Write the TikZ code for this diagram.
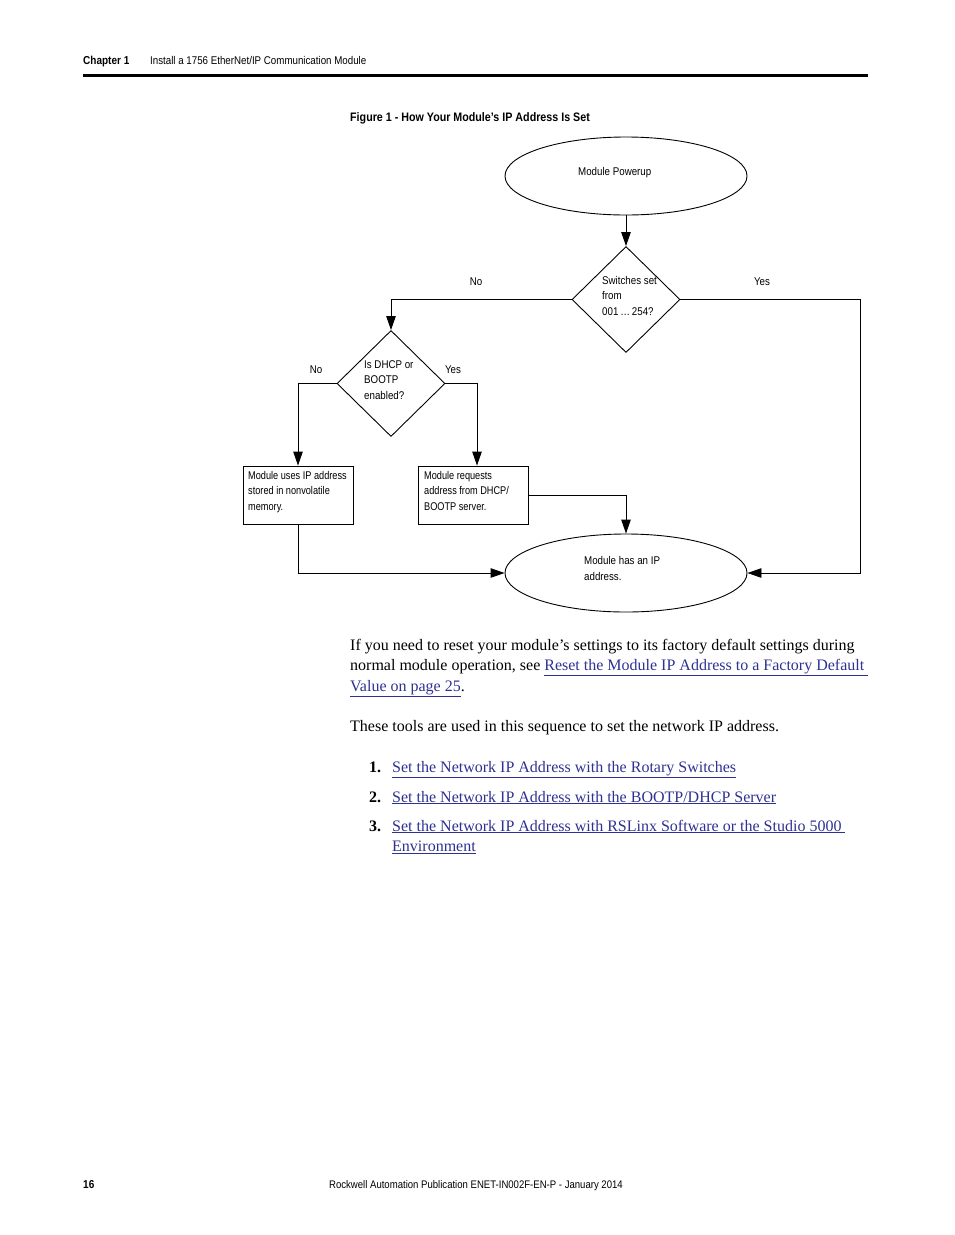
\documentclass[tikz,border=0pt]{standalone}
\usepackage{fontspec}
\setmainfont{Liberation Serif}
\newfontfamily\cond[FakeStretch=0.87]{Liberation Sans}
\newfontfamily\condn[FakeStretch=0.82]{Liberation Sans}
\usetikzlibrary{shapes.geometric,arrows.meta}
\definecolor{linkblue}{RGB}{46,49,146}
\begin{document}
\begin{tikzpicture}[x=1pt,y=-1pt,
  arr/.style={-{Triangle[length=14pt,width=9.5pt]},line width=0.9pt},
  sf/.style={font=\cond\fontsize{11.2}{15.5}\selectfont,inner sep=0pt,align=left},
  sfn/.style={font=\condn\fontsize{11.2}{15.5}\selectfont,inner sep=0pt,align=left},
  body/.style={font=\fontsize{16}{20.5}\selectfont,inner sep=0pt,anchor=base west},
  lnk/.style={body,text=linkblue},
  num/.style={body,font=\bfseries\fontsize{16}{20.5}\selectfont},
  ell/.style={draw,ellipse,line width=0.9pt,minimum width=242pt,minimum height=78pt,inner sep=0pt},
  dia/.style={draw,diamond,line width=0.9pt,minimum width=108pt,minimum height=106pt,inner sep=0pt},
  box/.style={draw,rectangle,line width=0.9pt,minimum width=110pt,minimum height=58pt,inner sep=0pt}]
\useasboundingbox (0,0) rectangle (954,1235);
% header
\node[anchor=base west,inner sep=0pt,font=\cond\bfseries\fontsize{11.5}{13}\selectfont] (chap) at (83,64) {Chapter 1};
\node[anchor=base west,inner sep=0pt,font=\cond\fontsize{11.2}{13}\selectfont] (htitle) at (150,64) {Install a 1756 EtherNet/IP Communication Module};
\draw[line width=3pt] (83,75.5) -- (868,75.5);
\node[anchor=base west,inner sep=0pt,font=\cond\bfseries\fontsize{12.3}{15}\selectfont] (ftitle) at (350,121.5) {Figure 1 - How Your Module’s IP Address Is Set};
% flowchart
\node[ell] (e1) at (626,176) {};
\node[sf,anchor=base west] (t1) at (578,175.5) {Module Powerup};
\node[dia] (d1) at (626,299.5) {};
\node[sf,anchor=base west] (t2) at (602,315) {Switches set\\from\\001\,…\,254?};
\node[dia] (d2) at (391,383.5) {};
\node[sf,anchor=base west] (t3) at (364,399) {Is DHCP or\\BOOTP\\enabled?};
\node[box] (b1) at (298,495) {};
\node[sfn,anchor=base west] (t4) at (248,510) {Module uses IP address\\stored in nonvolatile\\memory.};
\node[box] (b2) at (473,495) {};
\node[sfn,anchor=base west] (t5) at (424,510) {Module requests\\address from DHCP/\\BOOTP server.};
\node[ell] (e2) at (626,573) {};
\node[sf,anchor=base west] (t6) at (584,580) {Module has an IP\\address.};
% labels
\node[sf,anchor=base] (no1) at (476,285) {No};
\node[sf,anchor=base] (yes1) at (762,285) {Yes};
\node[sf,anchor=base] (no2) at (316,373) {No};
\node[sf,anchor=base] (yes2) at (453,373) {Yes};
% connectors
\coordinate (c1) at (860,299.5);
\coordinate (c2) at (298,383.5);
\coordinate (c3) at (477,383.5);
\coordinate (c4) at (298,573);
\draw[arr] (e1.south) -- (d1.north);
\draw[arr] (d1.west) -| (d2.north);
\draw[arr] (d1.east) -- (c1) |- (e2.east);
\draw[arr] (d2.west) -- (c2) -- (b1.north);
\draw[arr] (d2.east) -- (c3) -- (c3 |- b2.north);
\draw[arr] (b2.east) -| (e2.north);
\draw[arr] (b1.south) -- (c4) -- (e2.west);
% body text
\node[body] (p1a) at (350,650) {If you need to reset your module’s settings to its factory default settings during};
\node[body] (p1b) at (350,670.5) {normal module operation, see \textcolor{linkblue}{\underline{Reset the Module IP Address to a Factory Default }}};
\node[lnk] (p1c) at (350,691) {\underline{Value on page 25}\textcolor{black}{.}};
\node[body] (p2) at (350,731) {These tools are used in this sequence to set the network IP address.};
\node[num] (n1) at (369,772) {1.};
\node[lnk] (l1) at (392,772) {\underline{Set the Network IP Address with the Rotary Switches}};
\node[num] (n2) at (369,802) {2.};
\node[lnk] (l2) at (392,802) {\underline{Set the Network IP Address with the BOOTP/DHCP Server}};
\node[num] (n3) at (369,831) {3.};
\node[lnk] (l3) at (392,831) {\underline{Set the Network IP Address with RSLinx Software or the Studio 5000 }};
\node[lnk] (l4) at (392,851.5) {\underline{Environment}};
% footer
\node[anchor=base west,inner sep=0pt,font=\cond\bfseries\fontsize{11.5}{13}\selectfont] (pg) at (83,1188) {16};
\node[anchor=base,inner sep=0pt,font=\cond\fontsize{11}{13}\selectfont] (foot) at (476,1188) {Rockwell Automation Publication ENET-IN002F-EN-P - January 2014};
\end{tikzpicture}
\end{document}
